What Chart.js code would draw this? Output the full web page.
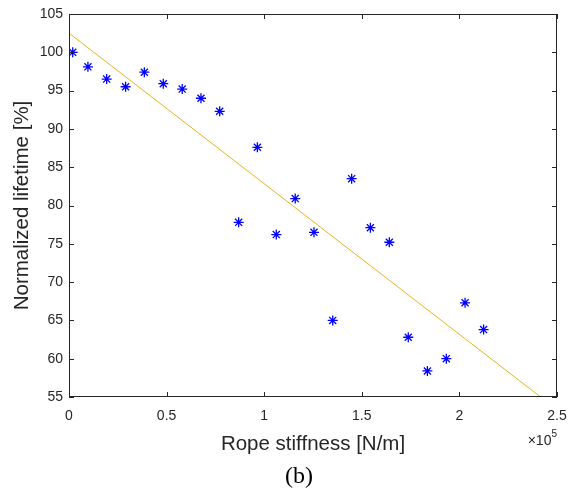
<!DOCTYPE html>
<html>
<head>
<meta charset="utf-8">
<script src="https://cdn.jsdelivr.net/npm/chart.js@4.4.1/dist/chart.umd.min.js"></script>
<style>
  html, body { margin: 0; padding: 0; background: #fff; }
  #wrap { width: 570px; height: 492px; }
</style>
</head>
<body>
<div id="wrap"><canvas id="lifeChart" width="570" height="492"></canvas></div>
<script>
// -------------------------------------------------
// Data
// stiffness in N/m, lifetime in percent
// -------------------------------------------------
const stiffness = [1900, 9700, 19300, 29000, 38600, 48300, 58000, 67600, 77200, 86900,
                   96500, 106200, 115900, 125500, 135100, 144800, 154400, 164100,
                   173800, 183600, 193300, 202900, 212400];
const lifetime = [100.0, 98.1, 96.5, 95.5, 97.4, 95.9, 95.2, 94.0, 92.3, 77.8,
                  87.6, 76.2, 80.9, 76.5, 65.0, 83.5, 77.1, 75.2,
                  62.8, 58.4, 60.0, 67.3, 63.8];

// linear fit line end points
const fitX = [0, 241600];
const fitY = [102.5, 55];

const xTicks = [0, 50000, 100000, 150000, 200000, 250000];
const yTicks = [55, 60, 65, 70, 75, 80, 85, 90, 95, 100, 105];

const INK = '#262626';
const FONT = '"Liberation Sans", Arial, Helvetica, sans-serif';

// -------------------------------------------------
// Box, inside ticks, exponent label and caption (MATLAB look)
// -------------------------------------------------
const matlabFrame = {
    id: 'matlabFrame',
    afterDraw(chart) {
        const { ctx, chartArea: a, scales } = chart;
        ctx.save();
        ctx.strokeStyle = INK;
        ctx.lineWidth = 1;
        ctx.strokeRect(a.left + 0.5, a.top + 0.5, a.right - a.left - 1, a.bottom - a.top - 1);

        const len = 5;
        ctx.beginPath();
        xTicks.forEach(v => {
            const px = Math.round(scales.x.getPixelForValue(v)) + 0.5;
            ctx.moveTo(px, a.bottom); ctx.lineTo(px, a.bottom - len);
            ctx.moveTo(px, a.top); ctx.lineTo(px, a.top + len);
        });
        yTicks.forEach(v => {
            const py = Math.round(scales.y.getPixelForValue(v)) + 0.5;
            ctx.moveTo(a.left, py); ctx.lineTo(a.left + len, py);
            ctx.moveTo(a.right, py); ctx.lineTo(a.right - len, py);
        });
        ctx.stroke();

        // x10^5 exponent
        ctx.fillStyle = INK;
        ctx.textBaseline = 'middle';
        ctx.textAlign = 'right';
        ctx.font = '10px ' + FONT;
        ctx.fillText('5', a.right, 434);
        const w5 = ctx.measureText('5').width;
        ctx.font = '14px ' + FONT;
        ctx.fillText('\u00d710', a.right - w5, 441);

        // caption
        ctx.textAlign = 'center';
        ctx.font = '24px "Liberation Serif", "DejaVu Serif", serif';
        ctx.fillStyle = '#000';
        ctx.fillText('(b)', 299, 477);
        ctx.restore();
    }
};

const ctx = document.getElementById('lifeChart').getContext('2d');
new Chart(ctx, {
    type: 'scatter',
    data: {
        datasets: [{
            label: 'Measured',
            data: stiffness.map((x, i) => ({ x: x, y: lifetime[i] })),
            pointStyle: 'star',
            pointRadius: 5,
            pointBorderColor: '#0000ff',
            pointBackgroundColor: '#0000ff',
            pointBorderWidth: 1.3,
            showLine: false
        }, {
            label: 'Fit',
            type: 'line',
            data: fitX.map((x, i) => ({ x: x, y: fitY[i] })),
            borderColor: '#EDB120',
            borderWidth: 1,
            pointRadius: 0,
            fill: false
        }]
    },
    options: {
        responsive: false,
        animation: false,
        layout: { padding: { left: 0, right: 13, top: 14, bottom: 0 } },
        plugins: {
            legend: { display: false },
            tooltip: { enabled: false }
        },
        scales: {
            x: {
                type: 'linear',
                min: 0,
                max: 250000,
                afterFit: s => { s.height = 95; s.paddingLeft = 0; s.paddingRight = 0; },
                afterBuildTicks: s => { s.ticks = xTicks.map(v => ({ value: v })); },
                grid: { display: false, drawTicks: false },
                border: { display: false },
                ticks: {
                    padding: 11,
                    color: INK,
                    font: { family: FONT, size: 14 },
                    maxRotation: 0,
                    callback: v => String(v / 100000)
                },
                title: {
                    display: true,
                    text: 'Rope stiffness [N/m]',
                    color: INK,
                    font: { family: FONT, size: 20.5 },
                    padding: { top: 0, bottom: 35 }
                }
            },
            y: {
                min: 55,
                max: 105,
                afterFit: s => { s.width = 69; s.paddingTop = 0; s.paddingBottom = 0; },
                afterBuildTicks: s => { s.ticks = yTicks.map(v => ({ value: v })); },
                grid: { display: false, drawTicks: false },
                border: { display: false },
                ticks: {
                    padding: 6,
                    color: INK,
                    font: { family: FONT, size: 14 }
                },
                title: {
                    display: true,
                    text: 'Normalized lifetime [%]',
                    color: INK,
                    font: { family: FONT, size: 20.5 },
                    padding: { top: 10, bottom: 0 }
                }
            }
        }
    },
    plugins: [matlabFrame]
});
</script>
</body>
</html>
